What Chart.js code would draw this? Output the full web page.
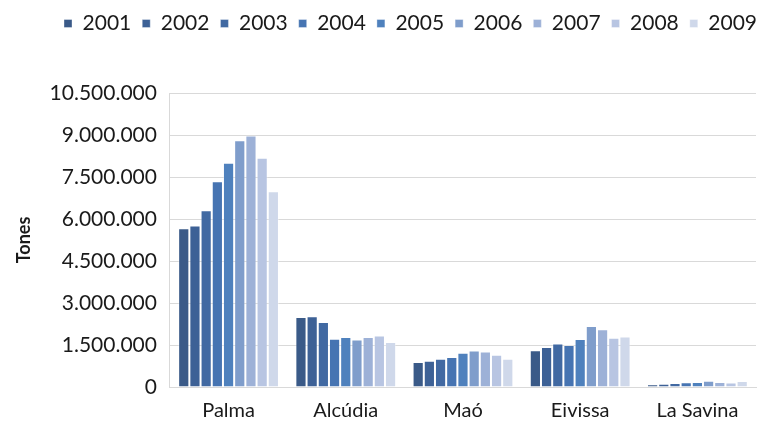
<!DOCTYPE html>
<html>
<head>
<meta charset="utf-8">
<script src="https://cdn.jsdelivr.net/npm/chart.js@4/dist/chart.umd.min.js"></script>
<style>
  body { margin: 0; background: #fff; }
  #wrap { width: 759px; height: 422px; position: relative; }
</style>
</head>
<body>
<div id="wrap"><canvas id="ports-chart"></canvas></div>
<script>
// ports and years
const ports = ['Palma', 'Alcúdia', 'Maó', 'Eivissa', 'La Savina'];
const years = ['2001', '2002', '2003', '2004', '2005', '2006', '2007', '2008', '2009'];

// tonnes per year, one array per port (2001..2009)
const palma    = [5670000, 5770000, 6310000, 7350000, 8010000, 8810000, 8980000, 8190000, 6990000];
const alcudia  = [2500000, 2530000, 2320000, 1720000, 1790000, 1700000, 1790000, 1840000, 1610000];
const mao      = [890000, 940000, 1010000, 1070000, 1220000, 1300000, 1270000, 1150000, 1010000];
const eivissa  = [1310000, 1430000, 1550000, 1500000, 1710000, 2180000, 2060000, 1760000, 1800000];
const laSavina = [100000, 120000, 140000, 170000, 180000, 220000, 180000, 160000, 210000];

const yearColors = ['#3A5A88', '#3D6196', '#4169A2', '#4674B2', '#4F81BD', '#7F9DCB', '#9DB1D7', '#B8C5E2', '#CFD8EA'];

const byPort = [palma, alcudia, mao, eivissa, laSavina];

// one dataset per year
const datasets = years.map(function (year, i) {
    return {
        label: year,
        data: byPort.map(p => p[i]),
        backgroundColor: yearColors[i],
        borderColor: 'rgba(255,255,255,0.35)',
        borderWidth: 1,
        categoryPercentage: 0.86,
        barPercentage: 1
    };
});

const fmt = v => String(v).replace(/\B(?=(\d{3})+(?!\d))/g, '.');

// extra room under the legend, and push it a bit to the right
const legendGap = {
    id: 'legendGap',
    beforeInit(chart) {
        const fit = chart.legend.fit;
        chart.legend.fit = function () {
            fit.bind(chart.legend)();
            this.height += 49;
        };
    },
    afterLayout(chart) {
        chart.legend.left += 12;
        chart.legend.right += 12;
    }
};

Chart.defaults.font.family = 'Lato, "Open Sans", sans-serif';
Chart.defaults.color = '#1a1a1a';

new Chart(document.getElementById('ports-chart'), {
    type: 'bar',
    data: { labels: ports, datasets: datasets },
    plugins: [legendGap],
    options: {
        responsive: true,
        maintainAspectRatio: false,
        animation: false,
        layout: { padding: { left: 9, right: 3, top: 2, bottom: -13 } },
        plugins: {
            tooltip: { enabled: false },
            legend: {
                position: 'top',
                align: 'end',
                labels: {
                    boxWidth: 8,
                    boxHeight: 8,
                    padding: 11,
                    font: { size: 21 },
                    color: '#1a1a1a'
                }
            }
        },
        scales: {
            x: {
                grid: { display: false, drawTicks: false },
                border: { color: '#d9d9d9' },
                ticks: { font: { size: 20, lineHeight: 1 }, padding: 14 }
            },
            y: {
                min: 0,
                max: 10500000,
                ticks: {
                    stepSize: 1500000,
                    font: { size: 21 },
                    padding: 13,
                    callback: v => fmt(v)
                },
                grid: { color: '#d9d9d9', drawTicks: false },
                border: { color: '#d9d9d9' },
                title: {
                    display: true,
                    text: 'Tones',
                    font: { size: 18, weight: 'bold' },
                    padding: { bottom: 2 }
                }
            }
        }
    }
});
</script>
</body>
</html>
